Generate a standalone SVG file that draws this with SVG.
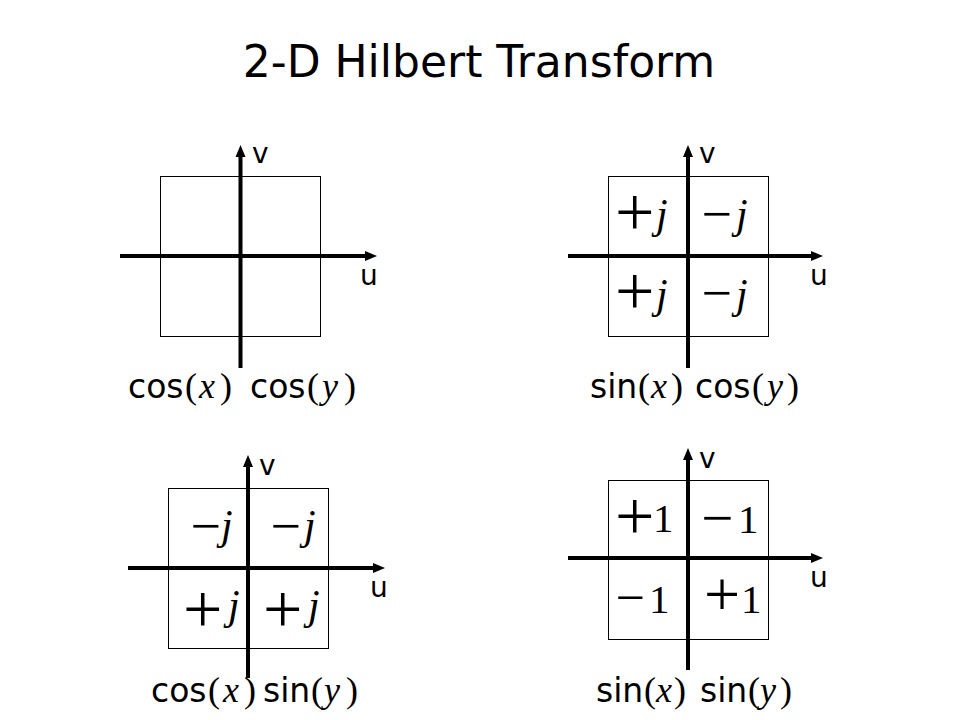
<svg xmlns="http://www.w3.org/2000/svg" width="960" height="720" viewBox="0 0 960 720">
<defs>
<marker id="arr" markerUnits="userSpaceOnUse" markerWidth="12" markerHeight="12" viewBox="0 0 12 12" refX="2" refY="6" orient="auto">
<path d="M0,1 L12,6 L0,11 z" fill="#000"/>
</marker>
<style>
.title{font-family:"DejaVu Sans",Verdana,sans-serif;font-size:44px;fill:#000}
.ax{font-family:"DejaVu Sans",Verdana,sans-serif;font-size:28px;fill:#000}
.box{fill:none;stroke:#000;stroke-width:1}
.axis{stroke:#000;stroke-width:4;fill:none;marker-end:url(#arr)}
.lbl{font-family:"Liberation Serif","Times New Roman",serif;fill:#000}
.pl{font-size:70px}
.mi{font-size:54px}
.jj{font-style:italic;font-size:42px}
.one{font-size:41px}
.cap{font-family:"DejaVu Sans",Verdana,sans-serif;font-size:33px;fill:#000}
.cs{font-family:"Liberation Serif","Times New Roman",serif;font-size:36px}
.ci{font-family:"Liberation Serif","Times New Roman",serif;font-size:36px;font-style:italic}
</style>
</defs>
<rect width="960" height="720" fill="#fff"/>
<text class="title" x="479" y="77" text-anchor="middle">2-D Hilbert Transform</text>

<g id="connectors">
<line class="axis" x1="120" y1="256" x2="367" y2="256"/>
<line class="axis" x1="240.5" y1="368" x2="240.5" y2="155"/>
<line class="axis" x1="568" y1="256" x2="813" y2="256"/>
<line class="axis" x1="688" y1="368" x2="688" y2="155"/>
<line class="axis" x1="128" y1="568" x2="375" y2="568"/>
<line class="axis" x1="248" y1="678" x2="248" y2="465"/>
<line class="axis" x1="568" y1="558" x2="813" y2="558"/>
<line class="axis" x1="688" y1="670" x2="688" y2="458"/>
</g>

<g id="panel-cos-cos">
<rect class="box" x="160.5" y="176.5" width="160" height="160"/>
<text class="ax" x="252" y="163">v</text>
<text class="ax" x="360" y="285">u</text>
<text class="cap" y="398"><tspan x="128">cos</tspan><tspan class="cs" x="185">(</tspan><tspan class="ci" x="199">x</tspan><tspan class="cs" x="220">)</tspan><tspan x="250">cos</tspan><tspan class="cs" x="307">(</tspan><tspan class="ci" x="322">y</tspan><tspan class="cs" x="344">)</tspan></text>
</g>

<g id="panel-sin-cos">
<rect class="box" x="608.5" y="176.5" width="160" height="160"/>
<text class="ax" x="699" y="163">v</text>
<text class="ax" x="810" y="285">u</text>
<text class="lbl"><tspan class="pl" x="614.9" y="235.7">+</tspan><tspan class="jj" x="656" y="228">j</tspan></text>
<text class="lbl"><tspan class="mi" x="701.4" y="231.8">−</tspan><tspan class="jj" x="736" y="228">j</tspan></text>
<text class="lbl"><tspan class="pl" x="614.9" y="314.7">+</tspan><tspan class="jj" x="656" y="308">j</tspan></text>
<text class="lbl"><tspan class="mi" x="701.4" y="310.8">−</tspan><tspan class="jj" x="736" y="308">j</tspan></text>
<text class="cap" y="398"><tspan x="590">sin</tspan><tspan class="cs" x="638">(</tspan><tspan class="ci" x="651">x</tspan><tspan class="cs" x="671">)</tspan><tspan x="695">cos</tspan><tspan class="cs" x="752">(</tspan><tspan class="ci" x="767">y</tspan><tspan class="cs" x="787">)</tspan></text>
</g>

<g id="panel-cos-sin">
<rect class="box" x="168.5" y="488.5" width="160" height="160"/>
<text class="ax" x="259" y="475">v</text>
<text class="ax" x="370" y="597">u</text>
<text class="lbl"><tspan class="mi" x="190.4" y="543.8">−</tspan><tspan class="jj" x="221" y="539">j</tspan></text>
<text class="lbl"><tspan class="mi" x="270.4" y="543.8">−</tspan><tspan class="jj" x="304" y="539">j</tspan></text>
<text class="lbl"><tspan class="pl" x="182.9" y="632.7">+</tspan><tspan class="jj" x="228" y="619">j</tspan></text>
<text class="lbl"><tspan class="pl" x="262.9" y="632.7">+</tspan><tspan class="jj" x="308" y="619">j</tspan></text>
<text class="cap" y="702"><tspan x="151">cos</tspan><tspan class="cs" x="208">(</tspan><tspan class="ci" x="223">x</tspan><tspan class="cs" x="244">)</tspan><tspan x="263">sin</tspan><tspan class="cs" x="311">(</tspan><tspan class="ci" x="324">y</tspan><tspan class="cs" x="346">)</tspan></text>
</g>

<g id="panel-sin-sin">
<rect class="box" x="608.5" y="480.5" width="160" height="159"/>
<text class="ax" x="699" y="468">v</text>
<text class="ax" x="810" y="587">u</text>
<text class="lbl"><tspan class="pl" x="614.9" y="539.7">+</tspan><tspan class="one" x="653" y="532">1</tspan></text>
<text class="lbl"><tspan class="mi" x="701.3" y="536.5" style="font-size:57px">−</tspan><tspan class="one" x="738" y="533">1</tspan></text>
<text class="lbl"><tspan class="mi" x="615.4" y="615.3" style="font-size:52px">−</tspan><tspan class="one" x="649" y="613">1</tspan></text>
<text class="lbl"><tspan class="pl" x="704" y="616.2" style="font-size:64px">+</tspan><tspan class="one" x="741" y="613">1</tspan></text>
<text class="cap" y="702"><tspan x="596">sin</tspan><tspan class="cs" x="644">(</tspan><tspan class="ci" x="656">x</tspan><tspan class="cs" x="674">)</tspan><tspan x="700">sin</tspan><tspan class="cs" x="748">(</tspan><tspan class="ci" x="760">y</tspan><tspan class="cs" x="780">)</tspan></text>
</g>
</svg>
